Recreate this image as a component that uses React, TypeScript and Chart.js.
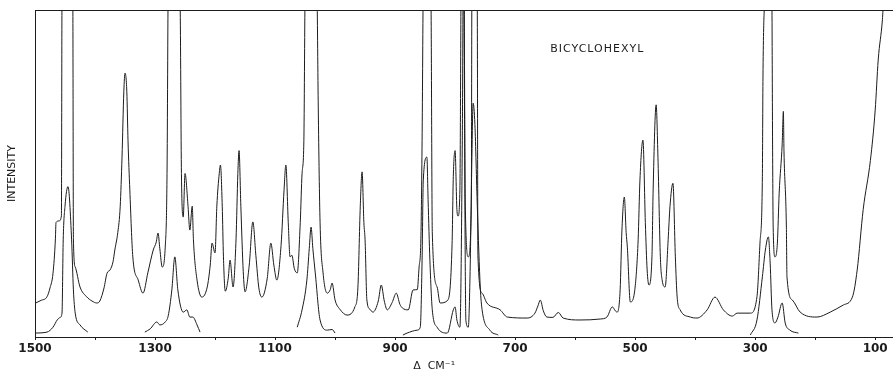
import React, { useEffect, useRef } from 'react';
import { Chart, registerables } from 'chart.js';

Chart.register(...registerables);

// Axis ticks (Raman shift, cm-1)
const tickValues = [1500, 1400, 1300, 1200, 1100, 1000, 900, 800, 700, 600, 500, 400, 300, 200, 100];
const labeledTicks = [1500, 1300, 1100, 900, 700, 500, 300, 100];
const xMin = 72;
const xMax = 1500;

const sampleName = 'BICYCLOHEXYL';
const sampleLabelAt: [number, number] = [563, 88];
const xTitle = 'Δ  CM⁻¹';
const xTitleAt = 835;
const yTitle = 'INTENSITY';

// Upper (high-gain) trace: [wavenumber, intensity]
const upperTrace: [number, number][] = [
  [1500, 10.3], [1490, 11.2], [1480, 12.3], [1475, 15], [1470, 19.5], [1466, 30], [1465, 35], [1460, 35.5],
  [1456, 37], [1455, 105], [1446, 165], [1437, 105], [1436, 30], [1433, 21.4], [1425, 15.3], [1414, 12.3],
  [1405, 11], [1397, 10.4], [1392, 11], [1385, 15], [1380, 19.5], [1375, 20.5], [1370, 23], [1367, 26.6],
  [1362, 32], [1358, 40], [1355, 55], [1352, 75], [1350, 80.7], [1347, 75], [1345, 60], [1342, 45],
  [1337, 24.5], [1328, 17.4], [1320, 13.4], [1312, 19.6], [1303, 26.6], [1298, 29], [1295, 31.8], [1292, 27],
  [1288, 21.4], [1283, 27.5], [1280, 50], [1278, 110], [1268, 170], [1258, 100], [1256, 50], [1253, 36.7],
  [1250, 50], [1245, 40], [1242, 32.7], [1238, 40], [1236, 29.7], [1230, 17.4], [1222, 12.2], [1213, 15.3],
  [1208, 22], [1205, 28.7], [1200, 25.7], [1197, 40], [1193, 50], [1191, 52.6], [1188, 40], [1186, 24.5],
  [1183, 14], [1178, 18], [1175, 23.5], [1170, 15.3], [1165, 30], [1162, 50], [1160, 57], [1157, 40],
  [1153, 20], [1150, 13.8], [1143, 22], [1137, 35.2], [1132, 25], [1127, 15], [1122, 12.2], [1113, 18],
  [1107, 28.7], [1102, 22], [1097, 17.4], [1090, 28], [1085, 45], [1082, 52.6], [1078, 35], [1075, 24.5],
  [1072, 25], [1068, 21], [1063, 19.6], [1058, 35], [1055, 50], [1052, 60], [1050, 105], [1040, 170],
  [1030, 105], [1028, 70], [1025, 35], [1020, 19.6], [1013, 13.4], [1008, 14.5], [1005, 16.5], [1000, 11.3],
  [992, 8.5], [980, 6.7], [967, 9.2], [962, 15], [958, 40], [955, 50.5], [952, 35], [950, 29.7],
  [947, 11.3], [942, 8.5], [937, 7.6], [928, 11], [923, 15.9], [918, 11], [913, 8.3], [905, 10.5],
  [898, 13.4], [892, 10], [888, 8.9], [878, 8.3], [870, 14.4], [863, 14.5], [860, 21.4], [857, 30],
  [855, 60], [853, 110], [847, 170], [840, 100], [838, 31.8], [830, 15.3], [825, 10.4], [812, 11.3],
  [805, 28.7], [803, 49], [800, 57], [797, 39], [795, 37], [792, 45], [790, 110], [787, 170],
  [785, 110], [783, 40], [778, 24.5], [773, 40], [772, 110], [767, 170], [763, 100], [762, 25],
  [755, 13.4], [747, 10.4], [725, 8.3], [713, 6.1], [680, 5.8], [667, 7.3], [662, 9.5], [658, 11.3],
  [653, 8], [647, 6.1], [637, 6], [628, 7.5], [620, 5.8], [592, 5.2], [558, 5.5], [547, 6.1],
  [538, 9.2], [533, 8], [530, 7.6], [525, 14.4], [522, 32.7], [518, 42.8], [515, 32], [513, 27.5],
  [508, 10.7], [500, 15.3], [495, 29.7], [492, 48], [487, 60.2], [483, 35], [480, 20.5], [477, 15.9],
  [472, 24.5], [470, 45], [465, 71], [462, 55], [458, 24.5], [455, 17.4], [450, 15.3], [445, 29.7],
  [442, 39.8], [437, 47], [433, 24.5], [430, 12.2], [425, 8.3], [408, 6.1], [397, 5.8], [380, 8.3],
  [367, 12.2], [353, 8.3], [338, 6.4], [330, 7.3], [308, 7.3], [297, 12.3], [292, 28.7], [288, 49],
  [287, 79.5], [283, 110], [278, 170], [272, 100], [271, 59], [270, 33.6], [267, 24.5], [263, 28.7],
  [260, 44], [255, 59], [253, 69], [252, 57], [248, 33.6], [247, 18.4], [238, 11.3], [225, 7.6],
  [197, 6.1], [175, 7.6], [153, 9.8], [138, 12.2], [130, 20.5], [120, 39], [108, 54], [100, 69.4],
  [95, 84.7], [88, 97], [87, 100], [78, 115],
];

// Lower (low-gain) trace, recorded in separate segments
const lowerSeg1: [number, number][] = [
  [1500, 1.2], [1480, 1.5], [1470, 3], [1463, 5.2], [1458, 6], [1455, 7.3], [1453, 29.7], [1450, 40],
  [1445, 46], [1439, 29.7], [1436, 14.4], [1433, 7.3], [1425, 3.7], [1412, 1.5],
];
const lowerSeg2: [number, number][] = [
  [1317, 1.5], [1308, 2.5], [1297, 4.6], [1292, 3.7], [1283, 4.6], [1278, 6.5], [1272, 14.4], [1267, 24.5],
  [1262, 14.4], [1253, 7.6], [1247, 8.3], [1242, 6.1], [1237, 6.1], [1230, 3.7], [1225, 1.5],
];
const lowerSeg3: [number, number][] = [
  [1063, 3], [1055, 8.3], [1047, 17.4], [1043, 27], [1040, 33.6], [1037, 27], [1033, 19.6], [1025, 5.2],
  [1013, 2.1], [1005, 2.3], [1000, 1.2],
];
const lowerSeg4: [number, number][] = [
  [887, 0.6], [880, 1.2], [863, 2.1], [858, 3], [855, 23.5], [853, 48], [847, 55], [845, 42],
  [842, 23.5], [838, 8.3], [830, 3], [813, 1.2], [803, 8.3], [800, 9.2], [797, 5.2], [792, 3],
  [788, 60], [786, 120], [783, 20], [782, 5], [778, 3], [775, 20], [772, 55], [770, 71.5],
  [767, 65], [763, 40], [758, 15], [755, 8.3], [742, 2.1], [728, 0.6],
];
const lowerSeg5: [number, number][] = [
  [308, 0.6], [297, 5.2], [288, 18.4], [283, 26.6], [278, 30.6], [275, 22.6], [272, 8.3], [267, 4.3],
  [262, 6.1], [255, 10.4], [250, 4.3], [242, 2.1], [228, 1.2],
];

const INK = '#1c1c1c';
const FONT = 'DejaVu Sans';

const toPoints = (arr: [number, number][]) => arr.map(([x, y]) => ({ x, y }));

const textPlugin = {
  id: 'spectrumText',
  afterDraw(chart: any) {
    const { ctx, scales } = chart;
    const xs = scales.x;
    const ys = scales.y;
    ctx.save();
    ctx.fillStyle = INK;
    ctx.textAlign = 'center';
    ctx.textBaseline = 'middle';
    ctx.font = `11px "${FONT}"`;
    try { (ctx as any).letterSpacing = '1px'; } catch (e) { /* ignore */ }
    ctx.fillText(sampleName, xs.getPixelForValue(sampleLabelAt[0]), ys.getPixelForValue(sampleLabelAt[1]));
    try { (ctx as any).letterSpacing = '0px'; } catch (e) { /* ignore */ }
    ctx.font = `11px "${FONT}"`;
    ctx.fillText(xTitle, xs.getPixelForValue(xTitleAt), chart.height - 6);
    ctx.restore();
  },
};

export default function App() {
  const canvasRef = useRef<HTMLCanvasElement | null>(null);

  useEffect(() => {
    if (!canvasRef.current) return;
    const lineStyle = {
      borderColor: INK,
      borderWidth: 1,
      pointRadius: 0,
      cubicInterpolationMode: 'monotone',
      fill: false,
    };
    const chart = new Chart(canvasRef.current, {
      type: 'line',
      data: {
        datasets: [
          { label: 'upper', data: toPoints(upperTrace), ...lineStyle },
          { label: 'lower1', data: toPoints(lowerSeg1), ...lineStyle },
          { label: 'lower2', data: toPoints(lowerSeg2), ...lineStyle },
          { label: 'lower3', data: toPoints(lowerSeg3), ...lineStyle },
          { label: 'lower4', data: toPoints(lowerSeg4), ...lineStyle },
          { label: 'lower5', data: toPoints(lowerSeg5), ...lineStyle },
        ],
      },
      options: {
        responsive: false,
        animation: false,
        events: [],
        layout: { padding: { left: 0, right: 2, top: 0, bottom: 0 } },
        plugins: {
          legend: { display: false },
          tooltip: { enabled: false },
          title: { display: false },
        },
        scales: {
          x: {
            type: 'linear',
            position: 'bottom',
            reverse: true,
            min: xMin,
            max: xMax,
            afterBuildTicks: (s: any) => {
              s.ticks = tickValues.map((v) => ({ value: v }));
            },
            afterFit: (s: any) => {
              s.height = 35;
            },
            ticks: {
              autoSkip: false,
              maxRotation: 0,
              minRotation: 0,
              padding: 2,
              color: INK,
              font: { family: FONT, size: 12, weight: 'bold' },
              callback: (v: any) => (labeledTicks.includes(Number(v)) ? String(v) : ''),
            },
            grid: { display: true, drawOnChartArea: false, drawTicks: true, tickLength: 3, color: INK },
            border: { display: true, color: INK, width: 1 },
          },
          xTop: {
            type: 'linear',
            position: 'top',
            reverse: true,
            min: xMin,
            max: xMax,
            afterFit: (s: any) => {
              s.height = 10;
            },
            ticks: { display: false },
            grid: { display: false, drawTicks: false },
            border: { display: true, color: INK, width: 1 },
          },
          y: {
            type: 'linear',
            position: 'left',
            min: 0,
            max: 100,
            afterFit: (s: any) => {
              s.width = 35;
            },
            ticks: { display: false },
            grid: { display: false, drawTicks: false },
            border: { display: true, color: INK, width: 1 },
            title: {
              display: true,
              text: yTitle,
              color: INK,
              font: { family: FONT, size: 11 },
              padding: { top: 6, bottom: 0 },
            },
          },
        },
      },
      plugins: [textPlugin],
    } as any);
    return () => chart.destroy();
  }, []);

  return (
    <div style={{ position: 'absolute', left: 0, top: 0, width: 894, height: 372, background: '#fff' }}>
      <canvas ref={canvasRef} width={894} height={372} style={{ display: 'block' }} />
    </div>
  );
}
